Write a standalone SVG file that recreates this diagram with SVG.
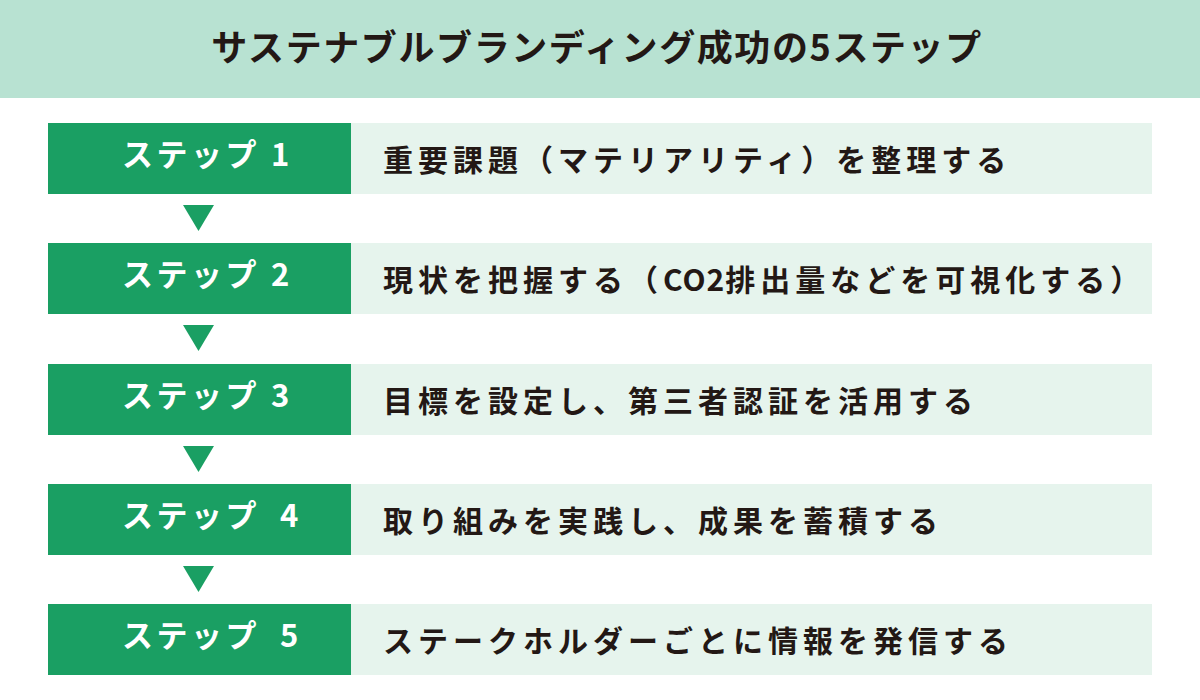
<svg xmlns="http://www.w3.org/2000/svg" width="1200" height="700" viewBox="0 0 1200 700">
<style>
.title{font-family:"Noto Sans CJK JP","Noto Sans",sans-serif;font-size:36px;font-weight:700;fill:#231815;letter-spacing:1.6px}
.lab{font-family:"Noto Sans CJK JP","Noto Sans",sans-serif;font-size:31px;font-weight:700;fill:#ffffff;letter-spacing:3.5px}
.desc{font-family:"Noto Sans CJK JP","Noto Sans",sans-serif;font-size:30px;font-weight:700;fill:#231815;letter-spacing:5px}
.g{fill:#1a9f63}
.l{fill:#e6f4ed}
.arr{fill:#1a9f63}
</style>
<rect width="1200" height="700" fill="#ffffff"/>
<g id="header">
<rect x="0" y="0" width="1200" height="98" fill="#b8e2d2"/>
<text class="title" x="597" y="61" text-anchor="middle">サステナブルブランディング成功の5ステップ</text>
</g>
<g id="step1">
<rect class="g" x="48" y="123" width="303" height="71"/>
<rect class="l" x="351" y="123" width="801" height="71"/>
<text class="lab" x="122" y="166">ステップ<tspan x="271">1</tspan></text>
<text class="desc" x="383" y="171">重要課題（マテリアリティ）を整理する</text>
</g>
<g id="step2">
<rect class="g" x="48" y="243" width="303" height="71"/>
<rect class="l" x="351" y="243" width="801" height="71"/>
<text class="lab" x="122" y="286">ステップ<tspan x="271">2</tspan></text>
<text class="desc" x="383" y="291">現状を把握する（<tspan letter-spacing="1px">CO2</tspan>排出量などを可視化する）</text>
</g>
<g id="step3">
<rect class="g" x="48" y="364" width="303" height="71"/>
<rect class="l" x="351" y="364" width="801" height="71"/>
<text class="lab" x="122" y="407">ステップ<tspan x="271">3</tspan></text>
<text class="desc" x="383" y="412">目標を設定し、第三者認証を活用する</text>
</g>
<g id="step4">
<rect class="g" x="48" y="484" width="303" height="71"/>
<rect class="l" x="351" y="484" width="801" height="71"/>
<text class="lab" x="122" y="527">ステップ<tspan x="280">4</tspan></text>
<text class="desc" x="383" y="532">取り組みを実践し、成果を蓄積する</text>
</g>
<g id="step5">
<rect class="g" x="48" y="604" width="303" height="71"/>
<rect class="l" x="351" y="604" width="801" height="71"/>
<text class="lab" x="122" y="647">ステップ<tspan x="280">5</tspan></text>
<text class="desc" x="383" y="652">ステークホルダーごとに情報を発信する</text>
</g>
<g id="connectors">
<polygon class="arr" points="183,205 214,205 198.5,231"/>
<polygon class="arr" points="183,325 214,325 198.5,351"/>
<polygon class="arr" points="183,446 214,446 198.5,472"/>
<polygon class="arr" points="183,566 214,566 198.5,592"/>
</g>
</svg>
